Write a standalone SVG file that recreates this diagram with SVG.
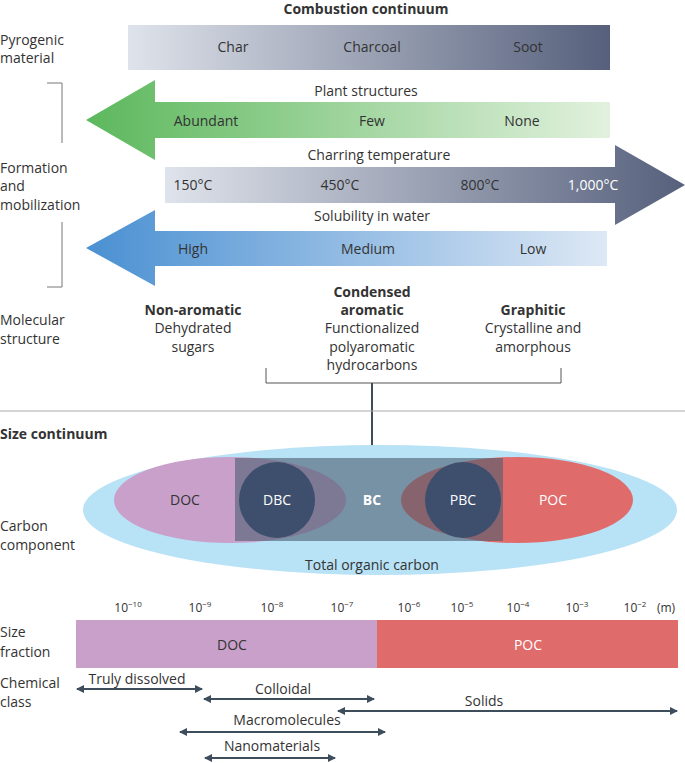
<svg xmlns="http://www.w3.org/2000/svg" width="685" height="763" viewBox="0 0 685 763">
<style>
text{font-family:"Open Sans","Liberation Sans",sans-serif;font-size:14px;fill:#333}
.c{text-anchor:middle}
.b{font-weight:bold}
.w{fill:#fff}
.ln{stroke:#3d4d5c;stroke-width:2;fill:none}
.sm{font-size:12px}
</style>
<defs>
<linearGradient id="gGrey" x1="0" x2="1"><stop offset="0" stop-color="#dfe3eb"/><stop offset="1" stop-color="#56607c"/></linearGradient>
<linearGradient id="gGreen" x1="0" x2="1"><stop offset="0" stop-color="#5cb85c"/><stop offset="1" stop-color="#e2f1de"/></linearGradient>
<linearGradient id="gBlue" x1="0" x2="1"><stop offset="0" stop-color="#4a90d2"/><stop offset="1" stop-color="#dde8f5"/></linearGradient>
<marker id="ah" markerWidth="8" markerHeight="8" refX="7" refY="4" orient="auto-start-reverse" markerUnits="userSpaceOnUse"><path d="M0,0 L8,4 L0,8 z" fill="#3d4d5c"/></marker>
</defs>
<g id="labels-left">
<text x="0" y="45">Pyrogenic</text><text x="0" y="63">material</text>
<text x="0" y="173">Formation</text><text x="0" y="191">and</text><text x="0" y="210">mobilization</text>
<text x="0" y="325">Molecular</text><text x="0" y="344">structure</text>
<text x="0" y="439" class="b">Size continuum</text>
<text x="0" y="531">Carbon</text><text x="0" y="550">component</text>
<text x="0" y="637">Size</text><text x="0" y="657">fraction</text>
<text x="0" y="688">Chemical</text><text x="0" y="707">class</text>
</g>
<g id="combustion">
<text x="366" y="14" class="c b">Combustion continuum</text>
<rect x="128" y="25" width="482" height="45" fill="url(#gGrey)"/>
<text x="233" y="52" class="c">Char</text><text x="372" y="52" class="c">Charcoal</text><text x="528" y="52" class="c">Soot</text>
</g>
<g id="plant">
<text x="366" y="96" class="c">Plant structures</text>
<path d="M86,120 L155,80 L155,102 L610,102 L610,138 L155,138 L155,160 Z" fill="url(#gGreen)"/>
<text x="206" y="126" class="c">Abundant</text><text x="372" y="126" class="c">Few</text><text x="522" y="126" class="c">None</text>
</g>
<g id="temperature">
<text x="379" y="160" class="c">Charring temperature</text>
<path d="M165,167 L615,167 L615,145 L685,185 L615,225 L615,203 L165,203 Z" fill="url(#gGrey)"/>
<text x="193" y="190" class="c">150°C</text><text x="340" y="190" class="c">450°C</text><text x="480" y="190" class="c">800°C</text><text x="593" y="190" class="c w">1,000°C</text>
</g>
<g id="solubility">
<text x="372" y="221" class="c">Solubility in water</text>
<path d="M86,248 L155,210 L155,231 L607,231 L607,266 L155,266 L155,286 Z" fill="url(#gBlue)"/>
<text x="193" y="254" class="c">High</text><text x="368" y="254" class="c">Medium</text><text x="533" y="254" class="c">Low</text>
</g>
<g id="bracket-left" fill="none" stroke="#777" stroke-width="1">
<path d="M47,83 H62 V143 M62,222 V287 H47"/>
</g>
<g id="molecular">
<text x="193" y="315" class="c b">Non-aromatic</text><text x="193" y="333" class="c">Dehydrated</text><text x="193" y="352" class="c">sugars</text>
<text x="372" y="297" class="c b">Condensed</text><text x="372" y="315" class="c b">aromatic</text><text x="372" y="333" class="c">Functionalized</text><text x="372" y="352" class="c">polyaromatic</text><text x="372" y="370" class="c">hydrocarbons</text>
<text x="533" y="315" class="c b">Graphitic</text><text x="533" y="333" class="c">Crystalline and</text><text x="533" y="352" class="c">amorphous</text>
</g>
<g id="connectors">
<path d="M266,368 V383 H561 V368" fill="none" stroke="#555" stroke-width="1"/>
<line x1="372" y1="383" x2="372" y2="476" class="ln" marker-end="url(#ah)"/>
<line x1="0" y1="411" x2="685" y2="411" stroke="#aaa" stroke-width="1"/>
<line x1="77" y1="689" x2="202" y2="689" class="ln" marker-start="url(#ah)" marker-end="url(#ah)"/>
<line x1="204" y1="699" x2="374" y2="699" class="ln" marker-start="url(#ah)" marker-end="url(#ah)"/>
<line x1="338" y1="711" x2="677" y2="711" class="ln" marker-start="url(#ah)" marker-end="url(#ah)"/>
<line x1="180" y1="732" x2="385" y2="732" class="ln" marker-start="url(#ah)" marker-end="url(#ah)"/>
<line x1="205" y1="758" x2="335" y2="758" class="ln" marker-start="url(#ah)" marker-end="url(#ah)"/>
</g>
<g id="components">
<ellipse cx="380" cy="510" rx="297" ry="65" fill="#b8e2f6"/>
<ellipse cx="230" cy="500" rx="116" ry="43" fill="#c8a0ca"/>
<ellipse cx="517" cy="500" rx="116" ry="43" fill="#e06b6b"/>
<rect x="235" y="458" width="268" height="83" fill="#4b5d70" fill-opacity="0.6"/>
<circle cx="277" cy="500" r="38" fill="#3e4f6e"/>
<circle cx="463" cy="500" r="38" fill="#3e4f6e"/>
<text x="185" y="505" class="c">DOC</text>
<text x="277" y="505" class="c w">DBC</text>
<text x="372" y="505" class="c b w">BC</text>
<text x="463" y="505" class="c w">PBC</text>
<text x="553" y="505" class="c w">POC</text>
<text x="372" y="570" class="c">Total organic carbon</text>
</g>
<g id="size-fraction">
<text x="128" y="612" class="c sm">10<tspan dy="-5" font-size="8">−10</tspan></text>
<text x="200" y="612" class="c sm">10<tspan dy="-5" font-size="8">−9</tspan></text>
<text x="272" y="612" class="c sm">10<tspan dy="-5" font-size="8">−8</tspan></text>
<text x="342" y="612" class="c sm">10<tspan dy="-5" font-size="8">−7</tspan></text>
<text x="409" y="612" class="c sm">10<tspan dy="-5" font-size="8">−6</tspan></text>
<text x="462" y="612" class="c sm">10<tspan dy="-5" font-size="8">−5</tspan></text>
<text x="518" y="612" class="c sm">10<tspan dy="-5" font-size="8">−4</tspan></text>
<text x="577" y="612" class="c sm">10<tspan dy="-5" font-size="8">−3</tspan></text>
<text x="635" y="612" class="c sm">10<tspan dy="-5" font-size="8">−2</tspan></text>
<text x="666" y="612" class="c sm">(m)</text>
<rect x="76" y="620" width="301" height="48" fill="#c8a0ca"/>
<rect x="377" y="620" width="301" height="48" fill="#e06b6b"/>
<text x="232" y="650" class="c">DOC</text>
<text x="528" y="650" class="c w">POC</text>
</g>
<g id="chemical">
<text x="137" y="684" class="c">Truly dissolved</text>
<text x="283" y="694" class="c">Colloidal</text>
<text x="484" y="706" class="c">Solids</text>
<text x="287" y="725" class="c">Macromolecules</text>
<text x="272" y="751" class="c">Nanomaterials</text>
</g>
</svg>
